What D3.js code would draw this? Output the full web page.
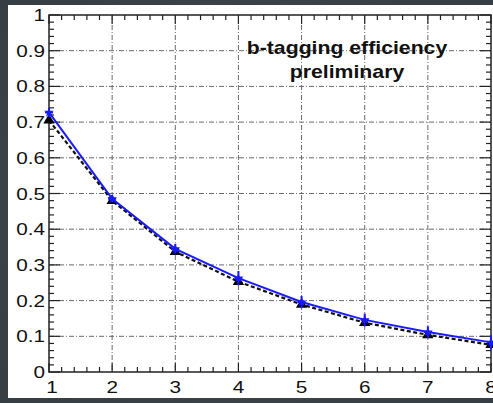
<!DOCTYPE html>
<html>
<head>
<meta charset="utf-8">
<script src="https://cdn.jsdelivr.net/npm/d3@7"></script>
<style>
  html, body { margin: 0; padding: 0; background: #3b4349; }
  svg { display: block; }
</style>
</head>
<body>
<svg id="chart" width="493" height="403"></svg>
<script>
// Jet multiplicity bins
const nJets = [1, 2, 3, 4, 5, 6, 7, 8];
// Efficiency, measured (blue, with errors)
const effMeasured = [0.727, 0.485, 0.345, 0.263, 0.196, 0.146, 0.112, 0.083];
const errMeasured = [0.012, 0.010, 0.014, 0.020, 0.017, 0.018, 0.016, 0.020];
// Efficiency, reference (black dashed, triangles)
const effReference = [0.705, 0.480, 0.337, 0.253, 0.189, 0.138, 0.104, 0.076];
// Tick labels
const xTickLabels = ["1", "2", "3", "4", "5", "6", "7", "8"];
const yTickValues = [0, 0.1, 0.2, 0.3, 0.4, 0.5, 0.6, 0.7, 0.8, 0.9, 1];
const yTickLabels = ["0", "0.1", "0.2", "0.3", "0.4", "0.5", "0.6", "0.7", "0.8", "0.9", "1"];
const titleLines = ["b-tagging efficiency", "preliminary"];

(function draw() {
const svg = d3.select("#chart");
const W = 493, H = 403;
const pL = 49, pR = 491, pT = 15, pB = 372;

// page backdrop with a subtle tone
const defs = svg.append("defs");
const bg = defs.append("radialGradient").attr("id", "bg").attr("cx", "50%").attr("cy", "50%").attr("r", "75%");
bg.append("stop").attr("offset", "0%").attr("stop-color", "#434b51");
bg.append("stop").attr("offset", "100%").attr("stop-color", "#363d42");
svg.append("rect").attr("width", W).attr("height", H).attr("fill", "url(#bg)");

// white canvas
svg.append("rect").attr("x", 8).attr("y", 5).attr("width", W - 8).attr("height", 393).attr("fill", "#ffffff");

const x = d3.scaleLinear().domain([1, 8]).range([pL, pR]);
const y = d3.scaleLinear().domain([0, 1]).range([pB, pT]);

// grid
const grid = svg.append("g").attr("stroke", "#6a6a6a").attr("stroke-width", 1)
  .attr("stroke-dasharray", "5,2,1,2").attr("fill", "none");
nJets.slice(1, -1).forEach(v => {
  grid.append("line").attr("x1", x(v)).attr("x2", x(v)).attr("y1", y(1)).attr("y2", y(0));
});
yTickValues.slice(1, -1).forEach(v => {
  grid.append("line").attr("x1", x(1)).attr("x2", x(8)).attr("y1", y(v)).attr("y2", y(v));
});

// frame axes with inward ticks (major + minor), on all four sides
const ax = svg.append("g").attr("stroke", "#222").attr("fill", "none");
ax.append("rect").attr("x", pL).attr("y", pT).attr("width", pR - pL).attr("height", pB - pT)
  .attr("stroke-width", 1.5);
const majL = 9, minL = 5;
const xMinor = d3.range(1, 8.0001, 0.2);
xMinor.forEach(v => {
  const isMaj = Math.abs(v - Math.round(v)) < 1e-6;
  const L = isMaj ? majL : minL;
  ax.append("line").attr("x1", x(v)).attr("x2", x(v)).attr("y1", pB).attr("y2", pB - L).attr("stroke-width", 1.2);
  ax.append("line").attr("x1", x(v)).attr("x2", x(v)).attr("y1", pT).attr("y2", pT + L).attr("stroke-width", 1.2);
});
const yMinor = d3.range(0, 1.0001, 0.02);
yMinor.forEach(v => {
  const isMaj = Math.abs(v * 10 - Math.round(v * 10)) < 1e-6;
  const L = isMaj ? majL + 2 : minL;
  ax.append("line").attr("x1", pL).attr("x2", pL + L).attr("y1", y(v)).attr("y2", y(v)).attr("stroke-width", 1.2);
  ax.append("line").attr("x1", pR).attr("x2", pR - L).attr("y1", y(v)).attr("y2", y(v)).attr("stroke-width", 1.2);
});

// stretched text helper
function label(g, tx, ty, str, opts) {
  const t = g.append("g").attr("transform", `translate(${tx},${ty}) scale(${opts.sx || 1},1)`);
  t.append("text").attr("x", 0).attr("y", 0)
    .attr("text-anchor", opts.anchor || "middle")
    .attr("font-family", "'Liberation Sans', Arial, Helvetica, sans-serif")
    .attr("font-size", opts.size || 16)
    .attr("font-weight", opts.weight || "normal")
    .attr("fill", "#111")
    .text(str);
}

const lbl = svg.append("g");
yTickValues.forEach((v, i) => {
  label(lbl, 45, y(v) + 6, yTickLabels[i], { anchor: "end", size: 17, sx: 1.22 });
});
nJets.forEach((v, i) => {
  label(lbl, x(v) + (i === 0 ? 3 : 0), 393, xTickLabels[i], { anchor: "middle", size: 17, sx: 1.22 });
});

// title text
label(lbl, 347, 54, titleLines[0], { anchor: "middle", size: 18, weight: "bold", sx: 1.18 });
label(lbl, 347, 78, titleLines[1], { anchor: "middle", size: 18, weight: "bold", sx: 1.18 });

// reference series: black dashed line with triangles
const lineGen = d3.line().x(d => x(d[0])).y(d => y(d[1]));
const refPts = nJets.map((n, i) => [n, effReference[i]]);
svg.append("path").datum(refPts).attr("d", lineGen)
  .attr("fill", "none").attr("stroke", "#111").attr("stroke-width", 2.2).attr("stroke-dasharray", "4,2.5");
const tri = d3.symbol().type(d3.symbolTriangle).size(55);
svg.append("g").selectAll("path").data(refPts).join("path")
  .attr("d", tri).attr("transform", d => `translate(${x(d[0])},${y(d[1])})`).attr("fill", "#000");

// measured series: blue line with error bars
const measPts = nJets.map((n, i) => [n, effMeasured[i], errMeasured[i]]);
svg.append("path").datum(measPts).attr("d", lineGen)
  .attr("fill", "none").attr("stroke", "#1a1aff").attr("stroke-width", 2);
const eb = svg.append("g").attr("stroke", "#1a1aff").attr("stroke-width", 2);
measPts.forEach(d => {
  eb.append("line").attr("x1", x(d[0])).attr("x2", x(d[0])).attr("y1", y(d[1] - d[2])).attr("y2", y(d[1] + d[2]));
  eb.append("line").attr("x1", x(d[0]) - 4).attr("x2", x(d[0]) + 4).attr("y1", y(d[1])).attr("y2", y(d[1]));
});
svg.append("g").selectAll("path").data(measPts).join("path")
  .attr("d", d3.symbol().type(d3.symbolStar).size(30))
  .attr("transform", d => `translate(${x(d[0])},${y(d[1])})`).attr("fill", "#1a1aff");
})();
</script>
</body>
</html>
